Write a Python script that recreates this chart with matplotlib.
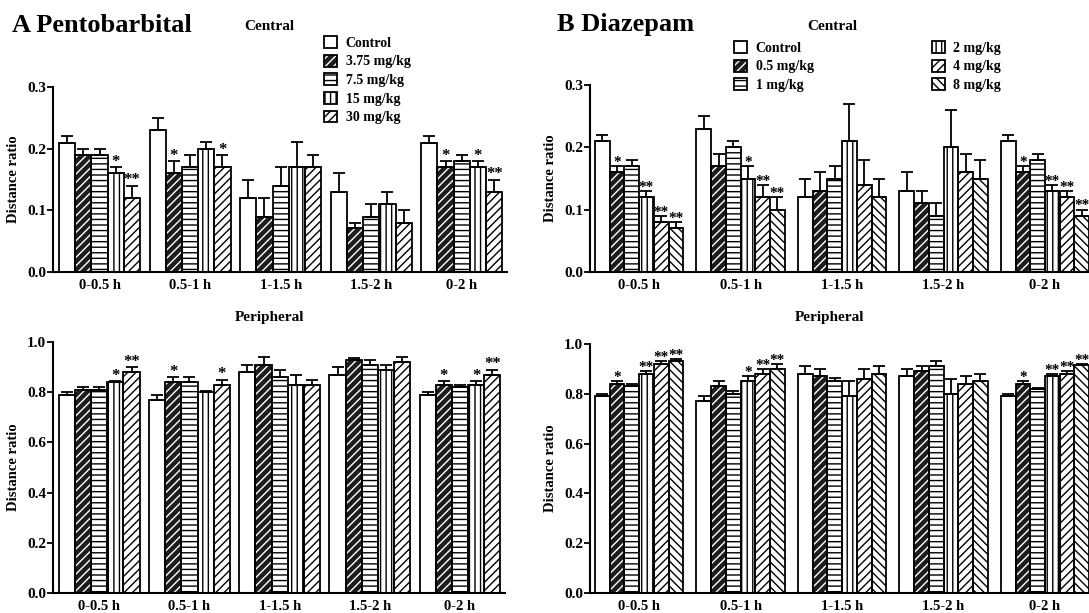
#!/usr/bin/env python3
"""
Distance ratio (central / peripheral) after pentobarbital and diazepam.
Grouped bar charts with hatched doses, SEM error bars and significance stars.
"""

import matplotlib
matplotlib.use("Agg")
import matplotlib.pyplot as plt
from matplotlib.patches import Patch
from matplotlib.legend_handler import HandlerTuple

plt.rcParams["font.family"] = ["Liberation Serif", "DejaVu Serif"]
plt.rcParams["font.weight"] = "bold"
plt.rcParams["hatch.linewidth"] = 1.0

W, H = 1089, 613

periods = ["0-0.5 h", "0.5-1 h", "1-1.5 h", "1.5-2 h", "0-2 h"]
pento_doses = ["Control", "3.75 mg/kg", "7.5 mg/kg", "15 mg/kg", "30 mg/kg"]
diaz_doses = ["Control", "0.5 mg/kg", "1 mg/kg", "2 mg/kg", "4 mg/kg", "8 mg/kg"]

# one row per dose, one column per period
pento_central_mean = [
    [0.21, 0.23, 0.12, 0.13, 0.21],
    [0.19, 0.16, 0.09, 0.072, 0.17],
    [0.19, 0.17, 0.14, 0.09, 0.18],
    [0.16, 0.20, 0.17, 0.11, 0.17],
    [0.12, 0.17, 0.17, 0.08, 0.13],
]
pento_central_sem = [
    [0.01, 0.02, 0.03, 0.03, 0.01],
    [0.01, 0.02, 0.03, 0.008, 0.01],
    [0.01, 0.02, 0.03, 0.02, 0.01],
    [0.01, 0.01, 0.04, 0.02, 0.01],
    [0.02, 0.02, 0.02, 0.02, 0.02],
]
pento_central_sig = [
    ["", "", "", "", ""],
    ["", "*", "", "", "*"],
    ["", "", "", "", ""],
    ["*", "", "", "", "*"],
    ["**", "*", "", "", "**"],
]

diaz_central_mean = [
    [0.21, 0.23, 0.12, 0.13, 0.21],
    [0.16, 0.17, 0.13, 0.11, 0.16],
    [0.17, 0.20, 0.15, 0.09, 0.18],
    [0.12, 0.15, 0.21, 0.20, 0.13],
    [0.08, 0.12, 0.14, 0.16, 0.12],
    [0.07, 0.10, 0.12, 0.15, 0.09],
]
diaz_central_sem = [
    [0.01, 0.02, 0.03, 0.03, 0.01],
    [0.01, 0.02, 0.03, 0.02, 0.01],
    [0.01, 0.01, 0.02, 0.02, 0.01],
    [0.01, 0.02, 0.06, 0.06, 0.01],
    [0.01, 0.02, 0.04, 0.03, 0.01],
    [0.01, 0.02, 0.03, 0.03, 0.01],
]
diaz_central_sig = [
    ["", "", "", "", ""],
    ["*", "", "", "", "*"],
    ["", "", "", "", ""],
    ["**", "*", "", "", "**"],
    ["**", "**", "", "", "**"],
    ["**", "**", "", "", "**"],
]

pento_periph_mean = [
    [0.79, 0.77, 0.88, 0.87, 0.79],
    [0.81, 0.84, 0.91, 0.93, 0.83],
    [0.81, 0.84, 0.86, 0.91, 0.82],
    [0.84, 0.80, 0.83, 0.89, 0.83],
    [0.88, 0.83, 0.83, 0.92, 0.87],
]
pento_periph_sem = [
    [0.01, 0.02, 0.03, 0.03, 0.01],
    [0.01, 0.02, 0.03, 0.005, 0.015],
    [0.01, 0.02, 0.03, 0.02, 0.01],
    [0.005, 0.005, 0.04, 0.02, 0.015],
    [0.02, 0.02, 0.02, 0.02, 0.02],
]
pento_periph_sig = [
    ["", "", "", "", ""],
    ["", "*", "", "", "*"],
    ["", "", "", "", ""],
    ["*", "", "", "", "*"],
    ["**", "*", "", "", "**"],
]

diaz_periph_mean = [
    [0.79, 0.77, 0.88, 0.87, 0.79],
    [0.84, 0.83, 0.87, 0.89, 0.84],
    [0.83, 0.80, 0.85, 0.91, 0.82],
    [0.88, 0.85, 0.79, 0.80, 0.87],
    [0.92, 0.88, 0.86, 0.84, 0.88],
    [0.93, 0.90, 0.88, 0.85, 0.915],
]
diaz_periph_sem = [
    [0.01, 0.02, 0.03, 0.03, 0.01],
    [0.01, 0.02, 0.03, 0.02, 0.01],
    [0.01, 0.01, 0.015, 0.02, 0.005],
    [0.01, 0.02, 0.06, 0.06, 0.01],
    [0.01, 0.02, 0.04, 0.03, 0.01],
    [0.01, 0.02, 0.03, 0.03, 0.005],
]
diaz_periph_sig = [
    ["", "", "", "", ""],
    ["*", "", "", "", "*"],
    ["", "", "", "", ""],
    ["**", "*", "", "", "**"],
    ["**", "**", "", "", "**"],
    ["**", "**", "", "", "**"],
]

# bar styles: (hatch, dark background)
PENTO_STYLES = [("", False), ("////", True), ("---", False), ("|||", False), ("////", False)]
DIAZ_STYLES = [("", False), ("////", True), ("---", False), ("|||", False), ("////", False),
               ("\\\\\\\\", False)]

EDGE_LW = 1.3
DARK = "#1c1c1c"


def style_handle(hatch, dark):
    outline = Patch(facecolor="none", edgecolor="black", linewidth=EDGE_LW)
    if dark:
        inner = Patch(facecolor=DARK, edgecolor="white", hatch=hatch, linewidth=0)
    else:
        inner = Patch(facecolor="white", edgecolor="black", hatch=hatch, linewidth=0)
    return (inner, outline)


def draw_panel(ax, means, sems, sigs, styles, step, xlim, ylim, yticks, star_size):
    for j, (m, s, sg) in enumerate(zip(means, sems, sigs)):
        hatch, dark = styles[j]
        x = [i * step + j + 0.5 for i in range(len(m))]
        if dark:
            ax.bar(x, m, width=1.0, facecolor=DARK, edgecolor="white", hatch=hatch,
                   linewidth=0, zorder=2)
        else:
            ax.bar(x, m, width=1.0, facecolor="white", edgecolor="black", hatch=hatch,
                   linewidth=0, zorder=2)
        ax.bar(x, m, width=1.0, fill=False, edgecolor="black", linewidth=EDGE_LW, zorder=3)
        ax.errorbar(x, m, yerr=[[0] * len(m), s], fmt="none", ecolor="black",
                    elinewidth=EDGE_LW, capsize=4, capthick=EDGE_LW, zorder=4)
        for xi, mi, si, star in zip(x, m, s, sg):
            if star:
                ax.annotate(star, (xi, mi + si), xytext=(0, -2), textcoords="offset points",
                            ha="center", va="bottom", fontsize=star_size,
                            fontweight="bold", zorder=5)

    n = len(means)
    ax.set_xticks([i * step + n / 2 for i in range(len(periods))])
    ax.set_xticklabels(periods, fontsize=10.5, fontweight="bold")
    ax.tick_params(axis="x", length=0, pad=5)
    ax.tick_params(axis="y", length=4, width=1.3, labelsize=11, pad=1)
    ax.set_yticks(yticks)
    ax.set_yticklabels([f"{t:.1f}" for t in yticks], fontweight="bold")
    ax.set_xlim(*xlim)
    ax.set_ylim(*ylim)
    for side in ("top", "right"):
        ax.spines[side].set_visible(False)
    for side in ("left", "bottom"):
        ax.spines[side].set_linewidth(1.5)
    ax.set_ylabel("Distance ratio", fontsize=10.5, fontweight="bold", labelpad=5)


def main():
    fig = plt.figure(figsize=(W / 100, H / 100), dpi=100)

    def axes_px(left, top, right, bottom):
        return fig.add_axes([left / W, 1 - bottom / H, (right - left) / W, (bottom - top) / H])

    ax_tl = axes_px(53, 87, 507, 272)
    ax_bl = axes_px(53, 342, 505, 593)
    ax_tr = axes_px(590, 85, 1098, 272)
    ax_br = axes_px(590, 344, 1098, 593)

    left_step, left_xlim = 5.59, (-0.37, 27.65)
    right_step, right_xlim = 6.9, (-0.34, 34.2)

    draw_panel(ax_tl, pento_central_mean, pento_central_sem, pento_central_sig, PENTO_STYLES,
               left_step, left_xlim, (0, 0.3), [0.0, 0.1, 0.2, 0.3], 12)
    draw_panel(ax_bl, pento_periph_mean, pento_periph_sem, pento_periph_sig, PENTO_STYLES,
               left_step, left_xlim, (0, 1.0), [0.0, 0.2, 0.4, 0.6, 0.8, 1.0], 12)
    draw_panel(ax_tr, diaz_central_mean, diaz_central_sem, diaz_central_sig, DIAZ_STYLES,
               right_step, right_xlim, (0, 0.3), [0.0, 0.1, 0.2, 0.3], 11)
    draw_panel(ax_br, diaz_periph_mean, diaz_periph_sem, diaz_periph_sig, DIAZ_STYLES,
               right_step, right_xlim, (0, 1.0), [0.0, 0.2, 0.4, 0.6, 0.8, 1.0], 11)

    # panel headings
    fig.text(12 / W, 1 - 25 / H, "A Pentobarbital", fontsize=19, fontweight="bold",
             ha="left", va="center")
    fig.text(557 / W, 1 - 25 / H, "B Diazepam", fontsize=19, fontweight="bold",
             ha="left", va="center")
    fig.text(269 / W, 1 - 27 / H, "Central", fontsize=11, fontweight="bold",
             ha="center", va="center")
    fig.text(832 / W, 1 - 27 / H, "Central", fontsize=11, fontweight="bold",
             ha="center", va="center")
    fig.text(270 / W, 1 - 317 / H, "Peripheral", fontsize=11, fontweight="bold",
             ha="center", va="center")
    fig.text(830 / W, 1 - 318 / H, "Peripheral", fontsize=11, fontweight="bold",
             ha="center", va="center")

    leg_kw = dict(frameon=False, handlelength=0.95, handleheight=0.95,
                  handletextpad=0.6, labelspacing=0.35, borderpad=0, borderaxespad=0,
                  handler_map={tuple: HandlerTuple(ndivide=1, pad=0)},
                  prop={"weight": "bold", "size": 10})

    fig.legend([style_handle(*s) for s in PENTO_STYLES], pento_doses, loc="upper left",
               bbox_to_anchor=(324 / W, 1 - 36 / H), **leg_kw)
    fig.legend([style_handle(*s) for s in DIAZ_STYLES], diaz_doses, loc="upper left",
               bbox_to_anchor=(734 / W, 1 - 41 / H), ncol=2, columnspacing=8.5, **leg_kw)

    fig.savefig("out.png", dpi=100)
    plt.close(fig)


if __name__ == "__main__":
    main()
